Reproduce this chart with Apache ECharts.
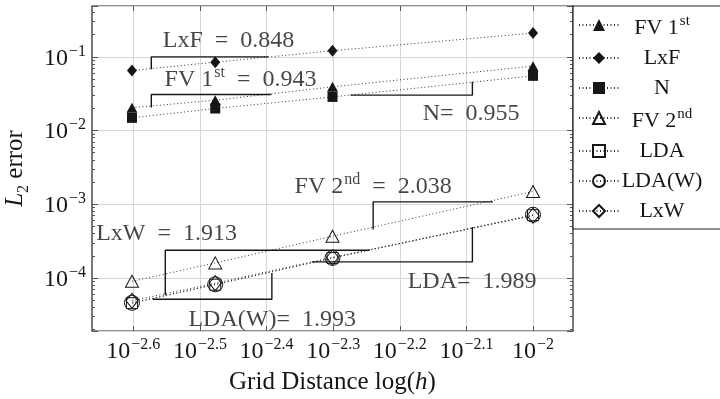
<!DOCTYPE html>
<html><head><meta charset="utf-8">
<script src="https://cdn.jsdelivr.net/npm/echarts@6/dist/echarts.min.js"></script>
<style>html,body{margin:0;padding:0;background:#fff}#c{width:720px;height:399px}</style>
</head><body><div id="c"></div>
<script>
// x values: log10 of grid distance h (h = 1/400, 1/300, 1/200, 1/100)
const logH = [-2.602, -2.477, -2.301, -2.0];
const xTicks = [-2.6, -2.5, -2.4, -2.3, -2.2, -2.1, -2.0];
const xTickLabels = ['−2.6', '−2.5', '−2.4', '−2.3', '−2.2', '−2.1', '−2'];

const seriesNames = ['FV 1st', 'LxF', 'N', 'FV 2nd', 'LDA', 'LDA(W)', 'LxW'];
const fv1 = [0.0204, 0.0258, 0.0392, 0.0748];
const lxf = [0.0652, 0.0847, 0.121, 0.21];
const nN = [0.01486, 0.0199, 0.0286, 0.0552];
const fv2 = [9.0e-5, 1.60e-4, 3.68e-4, 1.49e-3];
const lda = [4.55e-5, 8.1e-5, 1.86e-4, 7.1e-4];
const ldaW = [4.6e-5, 8.2e-5, 1.87e-4, 7.2e-4];
const lxw = [4.9e-5, 8.5e-5, 1.9e-4, 7.0e-4];

// slope annotation texts and anchor points (data coords: log10 h, error)
const noteTexts = ['{m|LxF  =  0.848}', '{m|FV 1}{s|st}{m|  =  0.943}', '{m|N=  0.955}', '{m|FV 2}{s|nd}{m|  =  2.038}', '{m|LxW  =  1.913}', '{m|LDA=  1.989}', '{m|LDA(W)=  1.993}'];
const noteX = [-2.457, -2.439, -2.093, -2.240, -2.550, -2.0915, -2.3915];
const noteY = [0.165, 0.0514, 0.01705, 1.81e-3, 4.0e-4, 9.0e-5, 2.72e-5];

// slope brackets (data coords)
const bracketLxF = [[-2.573, 0.068], [-2.573, 0.1], [-2.397, 0.1]];
const bracketFV1 = [[-2.573, 0.0206], [-2.573, 0.0309], [-2.393, 0.0309]];
const bracketN = [[-2.274, 0.0302], [-2.091, 0.0302], [-2.091, 0.0458]];
const bracketFV2 = [[-2.240, 4.54e-4], [-2.240, 1.076e-3], [-2.060, 1.076e-3]];
const bracketLxW = [[-2.552, 5.82e-5], [-2.552, 2.38e-4], [-2.245, 2.38e-4]];
const bracketLDA = [[-2.332, 1.65e-4], [-2.091, 1.65e-4], [-2.091, 4.92e-4]];
const bracketLDAW = [[-2.571, 5.14e-5], [-2.392, 5.14e-5], [-2.392, 1.17e-4]];

const FONT = 'Liberation Serif';
const C = '#161616';
const richBase = {
  m: {fontFamily: FONT, fontSize: 24, color: C, verticalAlign: 'bottom'},
  b: {fontFamily: FONT, fontSize: 24, color: C, verticalAlign: 'bottom'},
  s: {fontFamily: FONT, fontSize: 16, color: C, verticalAlign: 'bottom', padding: [0, 0, 11, 1]},
  it: {fontFamily: FONT, fontSize: 25, fontStyle: 'italic', color: C, verticalAlign: 'top'},
  sub: {fontFamily: FONT, fontSize: 16, color: C, verticalAlign: 'top', padding: [13, 0, 0, 0]},
  r: {fontFamily: FONT, fontSize: 25, color: C, verticalAlign: 'top'}
};
const dotted = [1, 2.5];
function mk(name, data, symbol, size, filled) {
  return {
    name: name, type: 'line', xAxisIndex: 0, yAxisIndex: 0,
    data: data.map((v, i) => [logH[i], v]),
    symbol: symbol, symbolSize: size, showSymbol: true,
    lineStyle: {color: '#333', width: 1, type: dotted},
    itemStyle: filled ? {color: C, borderColor: C, borderWidth: 0}
                      : {color: 'rgba(255,255,255,0)', borderColor: C, borderWidth: 1},
    z: 5
  };
}
function br(data) {
  return {type: 'line', data: data, symbol: 'none', xAxisIndex: 0, yAxisIndex: 0,
    lineStyle: {color: C, width: 1.4, type: 'solid'}, z: 6, silent: true};
}
const legendRich = {
  m: {fontFamily: FONT, fontSize: 22, color: C, verticalAlign: 'bottom', align: 'center'},
  s: {fontFamily: FONT, fontSize: 15, color: C, verticalAlign: 'bottom', align: 'center', padding: [0, 0, 10, 1]}
};
const yMin = Math.pow(10, -4.72), yMax = Math.pow(10, -0.31);
const yCommon = {
  type: 'log', logBase: 10, min: yMin, max: yMax,
  axisLine: {show: false},
  minorTick: {show: true, splitNumber: 9, length: 3, lineStyle: {color: '#555'}},
  minorSplitLine: {show: false}
};
const chart = echarts.init(document.getElementById('c'), null, {renderer: 'canvas'});
chart.setOption({
  animation: false,
  backgroundColor: '#fff',
  grid: {left: 92, right: 147, top: 6, bottom: 68, containLabel: false, outerBoundsMode: 'none',
    show: true, borderColor: '#222', borderWidth: 1.2, backgroundColor: 'transparent'},
  xAxis: [{
    type: 'value', min: -2.662, max: -1.94, position: 'bottom',
    axisLine: {show: false},
    axisTick: {show: true, inside: true, length: 5, customValues: xTicks, lineStyle: {color: '#555'}},
    splitLine: {show: true, lineStyle: {color: '#d6d6d6', width: 1}},
    axisLabel: {customValues: xTicks, margin: 6, rich: richBase,
      formatter: v => { const k = xTicks.findIndex(t => Math.abs(t - v) < 1e-6); return '{b|10}{s|' + xTickLabels[k] + '}'; }},
    name: '{r|Grid Distance log(}{it|h}{r|)}', nameLocation: 'middle', nameGap: 39,
    nameTextStyle: {rich: richBase}
  }, {
    type: 'value', min: -2.662, max: -1.94, position: 'top',
    axisLine: {show: false},
    axisTick: {show: true, inside: true, length: 5, customValues: xTicks, lineStyle: {color: '#555'}},
    splitLine: {show: false}, axisLabel: {show: false}
  }],
  yAxis: [Object.assign({}, yCommon, {
    position: 'left',
    axisTick: {show: true, inside: true, length: 6, lineStyle: {color: '#555'}},
    splitLine: {show: true, lineStyle: {color: '#d6d6d6', width: 1}},
    axisLabel: {margin: 6, showMinLabel: false, showMaxLabel: false, rich: richBase,
      formatter: v => '{b|10}{s|−' + Math.abs(Math.round(Math.log10(v))) + '}'},
    name: '{it|L}{sub|2}{r| error}', nameLocation: 'middle', nameRotate: 90, nameGap: 60,
    nameTextStyle: {rich: richBase}
  }), Object.assign({}, yCommon, {
    position: 'right',
    axisTick: {show: true, inside: true, length: 6, lineStyle: {color: '#555'}},
    splitLine: {show: false}, axisLabel: {show: false}
  })],
  legend: {
    show: true, orient: 'vertical', left: 573, top: 6,
    data: seriesNames,
    padding: [8, 60, 7, 5], itemGap: 8, itemWidth: 40, itemHeight: 15,
    borderColor: '#222', borderWidth: 1.2, borderRadius: 0, backgroundColor: '#fff',
    textStyle: {rich: legendRich, fontFamily: FONT, fontSize: 22, color: C, width: 76, height: 22},
    formatter: n => n === 'FV 1st' ? '{m|FV 1}{s|st}' : n === 'FV 2nd' ? '{m|FV 2}{s|nd}' : '{m|' + n + '}',
    selectedMode: false
  },
  series: [
    mk('FV 1st', fv1, 'triangle', [11, 10], true),
    mk('LxF', lxf, 'diamond', [10, 12], true),
    mk('N', nN, 'rect', [10, 10], true),
    mk('FV 2nd', fv2, 'triangle', [13, 12], false),
    mk('LDA', lda, 'rect', [11, 11], false),
    mk('LDA(W)', ldaW, 'circle', 15, false),
    mk('LxW', lxw, 'diamond', [12, 15], false),
    br(bracketLxF), br(bracketFV1), br(bracketN), br(bracketFV2), br(bracketLxW), br(bracketLDA), br(bracketLDAW),
    {
      type: 'scatter', silent: true, z: 10, symbolSize: 0.1,
      itemStyle: {color: 'rgba(0,0,0,0)'},
      data: noteTexts.map((t, i) => ({value: [noteX[i], noteY[i]], text: t})),
      label: {show: true, position: 'inside', rich: richBase, formatter: p => p.data.text}
    }
  ]
});
</script></body></html>
